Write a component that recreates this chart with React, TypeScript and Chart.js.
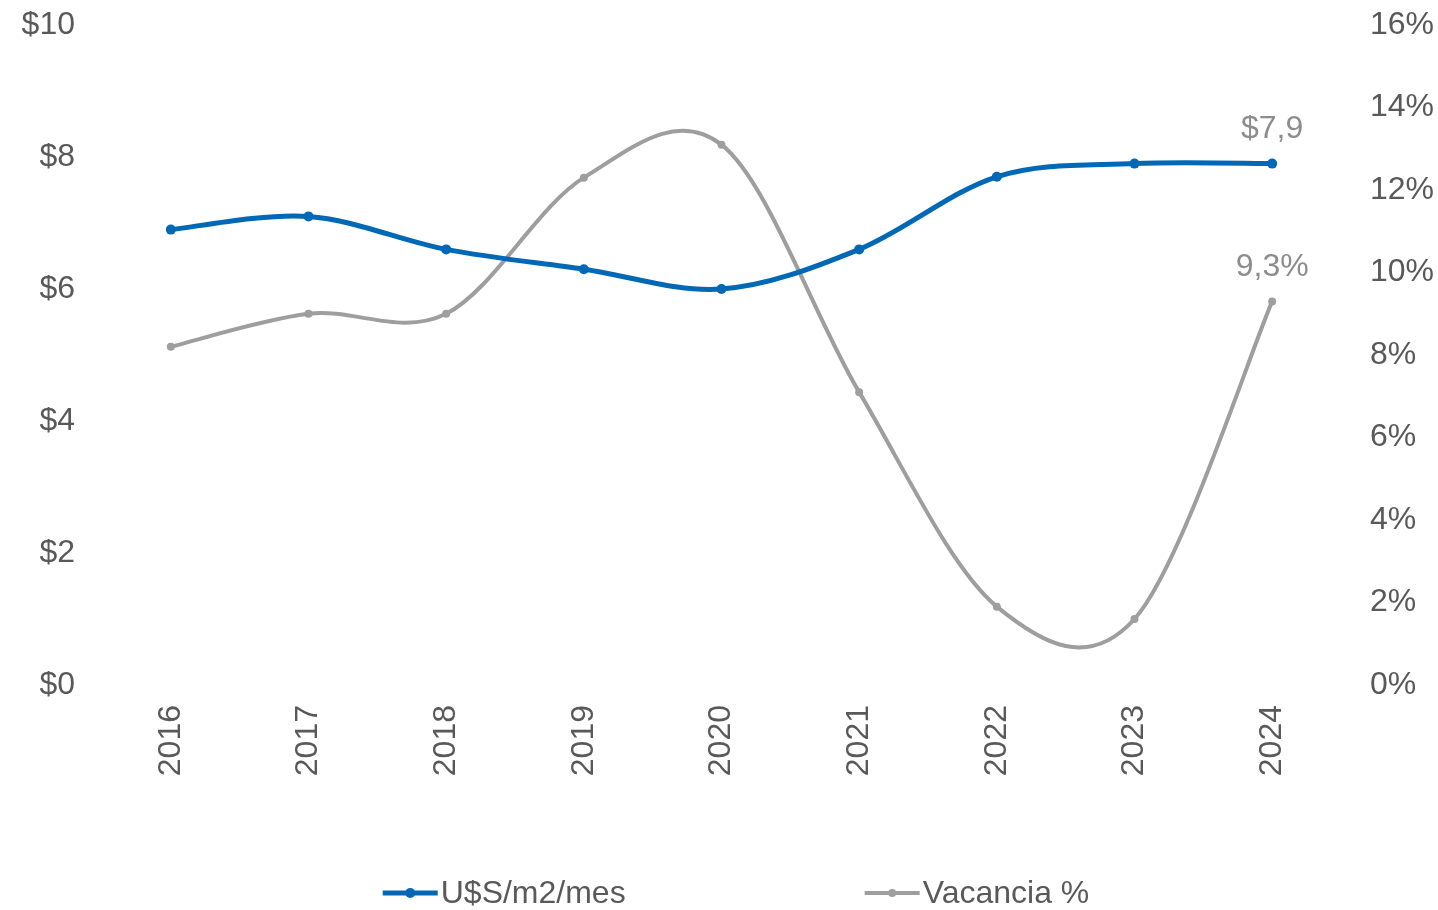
import React, { useEffect, useRef } from "react";
import { Chart, registerables } from "chart.js";

Chart.register(...registerables);

const years = ["2016", "2017", "2018", "2019", "2020", "2021", "2022", "2023", "2024"];
const rentValues = [6.9, 7.1, 6.6, 6.3, 6.0, 6.6, 7.7, 7.9, 7.9];
const vacancyValues = [8.2, 9.0, 9.0, 12.3, 13.1, 7.1, 1.9, 1.6, 9.3];
const rentTicks = [0, 2, 4, 6, 8, 10];
const vacancyTicks = [0, 2, 4, 6, 8, 10, 12, 14, 16];
const seriesNames = ["U$S/m2/mes", "Vacancia %"];
const lastLabels = ["$7,9", "9,3%"];

const BLUE = "#0068b5";
const GRAY = "#9e9e9e";
const TEXT = "#595959";
const LABEL = "#8c8c8c";
const FONT_FAMILY = "'Liberation Sans', Arial, Helvetica, sans-serif";
const FONT_SIZE = 32;

// Excel-like smoothing: control points at 1/6 of the neighbour span
const smoothPlugin = {
  id: "excelSmooth",
  beforeDatasetsDraw(chart: any) {
    chart.data.datasets.forEach((_ds: any, i: number) => {
      const meta = chart.getDatasetMeta(i);
      const pts = meta.data;
      const n = pts.length;
      for (let k = 0; k < n; k++) {
        const p = pts[k];
        const prev = pts[Math.max(0, k - 1)];
        const next = pts[Math.min(n - 1, k + 1)];
        const dx = (next.x - prev.x) / 6;
        const dy = (next.y - prev.y) / 6;
        p.cp1x = p.x - dx;
        p.cp1y = p.y - dy;
        p.cp2x = p.x + dx;
        p.cp2y = p.y + dy;
      }
      if (meta.dataset) meta.dataset._pointsUpdated = true;
    });
  },
};

const lastLabelPlugin = {
  id: "lastLabels",
  afterDatasetsDraw(chart: any) {
    const ctx = chart.ctx;
    ctx.save();
    ctx.font = `${FONT_SIZE}px ${FONT_FAMILY}`;
    ctx.fillStyle = LABEL;
    ctx.textAlign = "center";
    ctx.textBaseline = "middle";
    chart.data.datasets.forEach((_ds: any, i: number) => {
      const meta = chart.getDatasetMeta(i);
      const pt = meta.data[meta.data.length - 1];
      if (!pt) return;
      ctx.fillText(lastLabels[i], pt.x, pt.y - 34);
    });
    ctx.restore();
  },
};

const legendPlugin = {
  id: "customLegend",
  afterDraw(chart: any) {
    const ctx = chart.ctx;
    ctx.save();
    ctx.font = `${FONT_SIZE}px ${FONT_FAMILY}`;
    const markerW = 55;
    const gapText = 3;
    const gapItems = 239;
    const colors = [BLUE, GRAY];
    const widths = seriesNames.map((n) => markerW + gapText + ctx.measureText(n).width);
    const total = widths[0] + widths[1] + gapItems;
    const centerX = 736;
    const y = 893;
    let x = centerX - total / 2;
    seriesNames.forEach((name, i) => {
      ctx.strokeStyle = colors[i];
      ctx.lineWidth = i === 0 ? 5 : 4;
      ctx.lineCap = "butt";
      ctx.beginPath();
      ctx.moveTo(x, y);
      ctx.lineTo(x + markerW, y);
      ctx.stroke();
      ctx.fillStyle = colors[i];
      ctx.beginPath();
      ctx.arc(x + markerW / 2, y, i === 0 ? 5 : 4, 0, Math.PI * 2);
      ctx.fill();
      ctx.fillStyle = TEXT;
      ctx.textAlign = "left";
      ctx.textBaseline = "middle";
      ctx.fillText(name, x + markerW + gapText, y + 1);
      x += widths[i] + gapItems;
    });
    ctx.restore();
  },
};

export default function App() {
  const canvasRef = useRef<HTMLCanvasElement | null>(null);

  useEffect(() => {
    if (!canvasRef.current) return;
    const font = { family: FONT_FAMILY, size: FONT_SIZE };
    const chart = new Chart(canvasRef.current, {
      type: "line",
      data: {
        labels: years,
        datasets: [
          {
            label: seriesNames[0],
            data: rentValues,
            borderColor: BLUE,
            backgroundColor: BLUE,
            borderWidth: 5,
            pointRadius: 5,
            pointBorderWidth: 0,
            pointBackgroundColor: BLUE,
            tension: 0.4,
            yAxisID: "y",
          },
          {
            label: seriesNames[1],
            data: vacancyValues,
            borderColor: GRAY,
            backgroundColor: GRAY,
            borderWidth: 4,
            pointRadius: 4,
            pointBorderWidth: 0,
            pointBackgroundColor: GRAY,
            tension: 0.4,
            yAxisID: "y1",
          },
        ],
      },
      options: {
        responsive: false,
        animation: false,
        layout: { padding: { top: 25, left: 0, right: 0, bottom: 0 } },
        plugins: {
          legend: { display: false },
          tooltip: { enabled: false },
        },
        scales: {
          x: {
            type: "category",
            offset: true,
            grid: { display: false, drawTicks: false },
            border: { display: false },
            ticks: {
              color: TEXT,
              font,
              minRotation: 90,
              maxRotation: 90,
              autoSkip: false,
              padding: 20,
            },
            afterFit(scale: any) {
              scale.height = 225;
            },
          },
          y: {
            type: "linear",
            position: "left",
            min: 0,
            max: 10,
            grid: { display: false, drawTicks: false },
            border: { display: false },
            afterBuildTicks(scale: any) {
              scale.ticks = rentTicks.map((v) => ({ value: v }));
            },
            ticks: {
              color: TEXT,
              font,
              padding: 27,
              callback: (v: any) => "$" + v,
            },
            afterFit(scale: any) {
              scale.width = 102;
              scale.paddingTop = 0;
              scale.paddingBottom = 0;
            },
          },
          y1: {
            type: "linear",
            position: "right",
            min: 0,
            max: 16,
            grid: { display: false, drawTicks: false },
            border: { display: false },
            afterBuildTicks(scale: any) {
              scale.ticks = vacancyTicks.map((v) => ({ value: v }));
            },
            ticks: {
              color: TEXT,
              font,
              padding: 29,
              callback: (v: any) => v + "%",
            },
            afterFit(scale: any) {
              scale.width = 97;
              scale.paddingTop = 0;
              scale.paddingBottom = 0;
            },
          },
        },
      },
      plugins: [smoothPlugin, lastLabelPlugin, legendPlugin],
    });
    return () => chart.destroy();
  }, []);

  return (
    <div style={{ position: "absolute", left: 0, top: 0, width: 1438, height: 910, background: "#fff" }}>
      <canvas ref={canvasRef} width={1438} height={910} style={{ display: "block" }} />
    </div>
  );
}
